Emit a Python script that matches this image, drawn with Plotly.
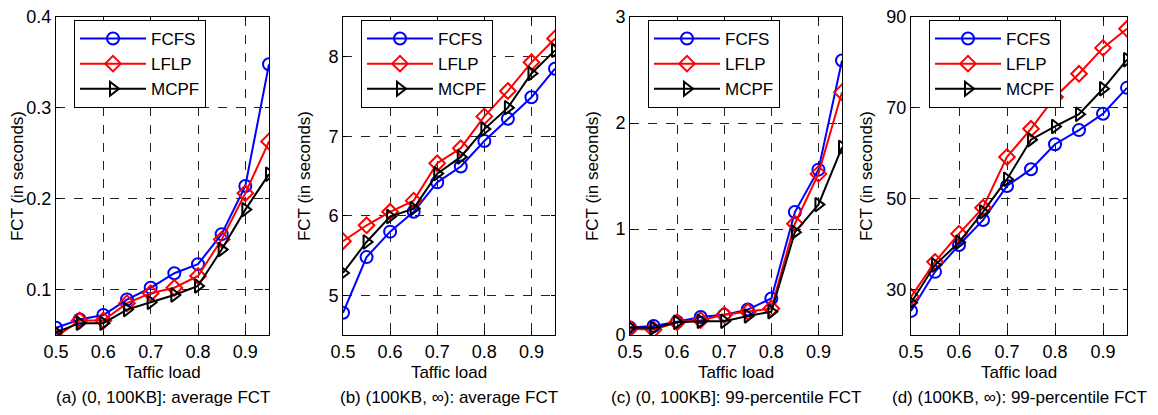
import plotly.graph_objects as go

# ── Data ──────────────────────────────────────────────────────────────────────
load = [0.5, 0.55, 0.6, 0.65, 0.7, 0.75, 0.8, 0.85, 0.9, 0.95]

# (a) (0, 100KB]: average FCT
a_fcfs = [0.058, 0.067, 0.072, 0.089, 0.102, 0.118, 0.128, 0.161, 0.214, 0.348]
a_lflp = [0.048, 0.066, 0.066, 0.085, 0.096, 0.102, 0.115, 0.155, 0.206, 0.263]
a_mcpf = [0.053, 0.063, 0.063, 0.078, 0.086, 0.094, 0.104, 0.144, 0.188, 0.227]

# (b) (100KB, ∞): average FCT
b_fcfs = [4.78, 5.48, 5.80, 6.05, 6.42, 6.62, 6.94, 7.22, 7.49, 7.85]
b_lflp = [5.68, 5.88, 6.05, 6.19, 6.66, 6.85, 7.25, 7.57, 7.93, 8.23]
b_mcpf = [5.28, 5.67, 5.99, 6.09, 6.53, 6.74, 7.09, 7.36, 7.79, 8.08]

# (c) (0, 100KB]: 99-percentile FCT
c_fcfs = [0.07, 0.085, 0.125, 0.17, 0.19, 0.24, 0.345, 1.16, 1.56, 2.59]
c_lflp = [0.06, 0.05, 0.12, 0.14, 0.19, 0.22, 0.25, 1.05, 1.52, 2.29]
c_mcpf = [0.07, 0.065, 0.12, 0.13, 0.13, 0.18, 0.22, 0.97, 1.23, 1.77]

# (d) (100KB, ∞): 99-percentile FCT
d_fcfs = [25.3, 33.9, 39.8, 45.3, 52.8, 56.5, 62.0, 65.1, 68.7, 74.4]
d_lflp = [28.4, 36.1, 42.3, 48.0, 59.2, 65.4, 72.4, 77.5, 83.2, 87.4]
d_mcpf = [27.1, 35.4, 40.4, 47.1, 54.3, 63.0, 65.9, 68.6, 74.2, 80.6]

captions = [
    "(a) (0, 100KB]: average FCT",
    "(b) (100KB, \u221e): average FCT",
    "(c) (0, 100KB]: 99-percentile FCT",
    "(d) (100KB, \u221e): 99-percentile FCT",
]
y_ranges = [[0.05, 0.4], [4.5, 8.5], [0, 3], [20, 90]]
y_ticks = [[0.1, 0.2, 0.3, 0.4], [5, 6, 7, 8], [0, 1, 2, 3], [30, 50, 70, 90]]
x_ticks = [0.5, 0.6, 0.7, 0.8, 0.9]
panels = [
    (a_fcfs, a_lflp, a_mcpf),
    (b_fcfs, b_lflp, b_mcpf),
    (c_fcfs, c_lflp, c_mcpf),
    (d_fcfs, d_lflp, d_mcpf),
]

# ── Geometry (window pixels; the page body adds an 8px margin) ────────────────
OFF = 8
W, H = 1158 - OFF, 415 - OFF
x_px = [(56, 269), (343, 555), (630, 842), (911, 1127)]
y_top, y_bot = 17, 335
y_standoff = [2, 13, 12, 9]
FONT = "Arial, Liberation Sans, sans-serif"


def px_x(v):
    return (v - OFF) / W


def px_y(v):
    return 1 - (v - OFF) / H


styles = [
    ("FCFS", "#0000ff", "circle-open"),
    ("LFLP", "#ff0000", "diamond-open"),
    ("MCPF", "#000000", "triangle-right-open"),
]

fig = go.Figure()
layout = {}

for i, (series, (x0, x1)) in enumerate(zip(panels, x_px)):
    n = "" if i == 0 else str(i + 1)
    leg = "legend" + n
    for (name, color, sym), vals in zip(styles, series):
        fig.add_trace(go.Scatter(
            x=load, y=vals, name=name, mode="lines+markers",
            xaxis="x" + n, yaxis="y" + n, legend=leg,
            line=dict(color=color, width=2),
            marker=dict(symbol=sym, size=12, color=color,
                        line=dict(color=color, width=2)),
        ))

    common = dict(
        showline=True, linecolor="black", linewidth=1, mirror="ticks",
        ticks="inside", ticklen=4, tickcolor="black",
        showgrid=True, gridcolor="#222222", griddash="dash", gridwidth=1,
        zeroline=False, automargin=False, ticklabeloverflow="allow",
        tickfont=dict(family=FONT, size=18, color="black"),
    )
    layout["xaxis" + n] = dict(
        common, domain=[px_x(x0), px_x(x1)], anchor="y" + n,
        range=[0.5, 0.95], tickvals=x_ticks,
        title=dict(text="Taffic load", standoff=5,
                   font=dict(family=FONT, size=17, color="black")),
    )
    layout["yaxis" + n] = dict(
        common, domain=[px_y(y_bot), px_y(y_top)], anchor="x" + n,
        range=y_ranges[i], tickvals=y_ticks[i],
        title=dict(text="FCT (in seconds)", standoff=y_standoff[i],
                   font=dict(family=FONT, size=17, color="black")),
    )
    layout[leg] = dict(
        x=px_x(x0 + 18), y=px_y(20), xanchor="left", yanchor="top",
        bgcolor="white", bordercolor="black", borderwidth=1,
        font=dict(family=FONT, size=17, color="black"),
        itemwidth=66, tracegroupgap=0,
    )
    fig.add_annotation(
        text=captions[i], xref="x%s domain" % n, yref="paper",
        x=0.5, y=px_y(397), xanchor="center", yanchor="middle",
        showarrow=False, font=dict(family=FONT, size=17, color="black"),
    )

fig.update_layout(
    **layout,
    width=W, height=H,
    margin=dict(l=0, r=0, t=0, b=0),
    paper_bgcolor="white", plot_bgcolor="white",
    showlegend=True,
)

fig.write_html("out.html")
